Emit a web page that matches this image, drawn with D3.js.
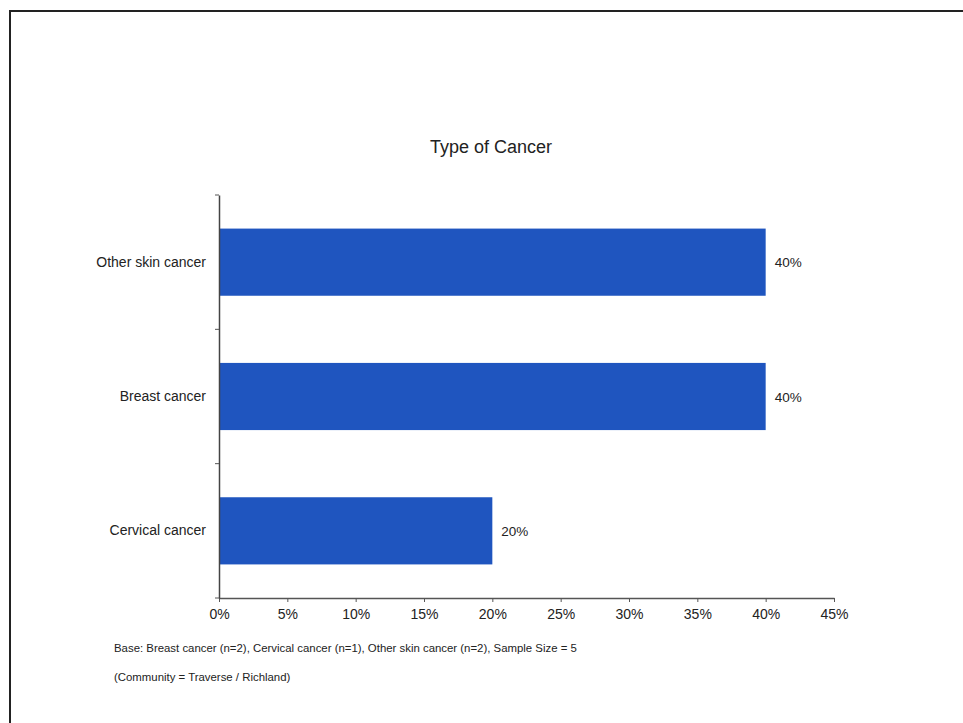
<!DOCTYPE html>
<html><head><meta charset="utf-8">
<script src="https://cdn.jsdelivr.net/npm/d3@7"></script>
<style>body{margin:0;background:#fff;}svg{display:block;font-family:"Liberation Sans",Arial,sans-serif;}</style>
</head><body>
<svg id="c" width="963" height="723"></svg>
<script>
const categories = ["Other skin cancer", "Breast cancer", "Cervical cancer"];
const values = [40, 40, 20];
const xTicks = [0, 5, 10, 15, 20, 25, 30, 35, 40, 45];
const title = "Type of Cancer";
const notes = ["Base: Breast cancer (n=2), Cervical cancer (n=1), Other skin cancer (n=2), Sample Size = 5",
               "(Community = Traverse / Richland)"];

const svg = d3.select("#c");
// frame
svg.append("path").attr("d","M10,730 L10,11 L970,11").attr("fill","none").attr("stroke","#222").attr("stroke-width",2);

const x = d3.scaleLinear().domain([0,45]).range([219,834]);
const y = d3.scaleBand().domain(categories).range([195,598]).padding(0.5).paddingOuter(0.25);

svg.append("text").attr("x",491).attr("y",153).attr("text-anchor","middle").attr("font-size",18).attr("fill","#222").text(title);

svg.selectAll("rect.bar").data(categories).enter().append("rect")
  .attr("x",x(0)).attr("y",d=>y(d)).attr("height",y.bandwidth())
  .attr("width",(d,i)=>x(values[i])-x(0)).attr("fill","#1f55bf");

svg.selectAll("text.val").data(categories).enter().append("text")
  .attr("x",(d,i)=>x(values[i])+9).attr("y",d=>y(d)+y.bandwidth()/2+5)
  .attr("font-size",13.5).attr("fill","#222").text((d,i)=>values[i]+"%");

// x axis
const xa = svg.append("g").attr("transform","translate(0,598)")
  .call(d3.axisBottom(x).tickValues(xTicks).tickFormat(d=>d+"%").tickSize(4).tickSizeOuter(0));
xa.select(".domain").attr("stroke","#555").attr("stroke-width",1.5);
xa.selectAll(".tick line").attr("stroke","#555");
xa.selectAll("text").attr("font-size",14).attr("fill","#222").attr("dy","1.0em").attr("font-family","Liberation Sans, Arial, sans-serif");

// y axis
const ya = svg.append("g").attr("transform","translate(219,0)")
  .call(d3.axisLeft(y).tickSize(0).tickPadding(13));
ya.select(".domain").attr("stroke","#444").attr("stroke-width",1.5);
ya.selectAll("text").attr("font-size",14).attr("fill","#222").attr("font-family","Liberation Sans, Arial, sans-serif");
// category boundary ticks
const step = y.step();
const bounds = [195].concat(categories.map(c=>y(c)-y.paddingInner()*step/2+step));
svg.selectAll("line.bt").data(bounds).enter().append("line")
  .attr("x1",215).attr("x2",219).attr("y1",d=>d).attr("y2",d=>d).attr("stroke","#555");

svg.selectAll("text.note").data(notes).enter().append("text")
  .attr("x",114).attr("y",(d,i)=>652+i*29).attr("font-size",11.4).attr("fill","#222").text(d=>d);
</script>
</body></html>
